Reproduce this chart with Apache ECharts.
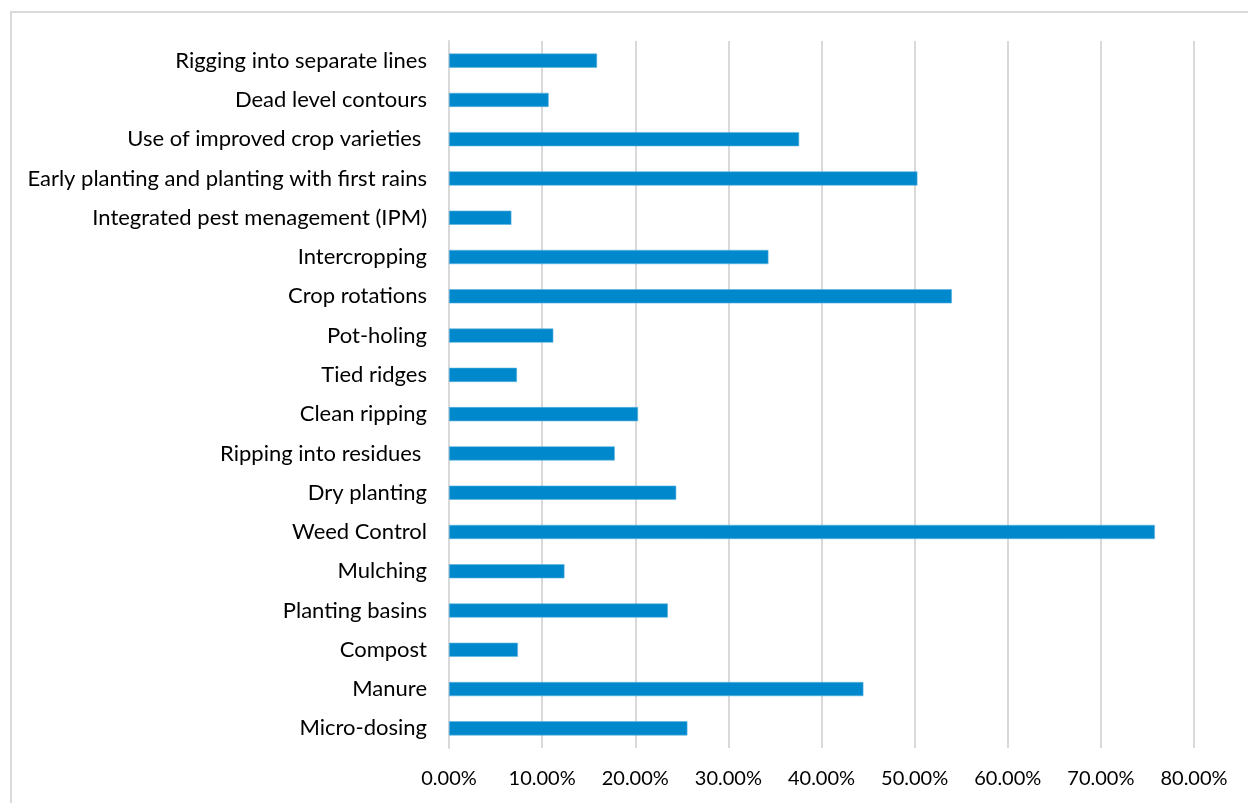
<!DOCTYPE html>
<html><head><meta charset="utf-8">
<script src="https://cdn.jsdelivr.net/npm/echarts@6/dist/echarts.min.js"></script>
<style>html,body{margin:0;padding:0;background:#fff}#c{width:1248px;height:803px;position:relative}
#frame{position:absolute;left:10px;top:11px;width:1300px;height:900px;border:2px solid #d9d9d9;box-sizing:border-box;pointer-events:none}</style>
</head><body><div id="c"></div><div id="frame"></div>
<script>
const categories = ["Micro-dosing","Manure","Compost","Planting basins","Mulching","Weed Control","Dry planting","Ripping into residues ","Clean ripping","Tied ridges","Pot-holing","Crop rotations","Intercropping","Integrated pest menagement (IPM)","Early planting and planting with first rains","Use of improved crop varieties ","Dead level contours","Rigging into separate lines"];
const values = [0.256,0.445,0.074,0.235,0.124,0.758,0.244,0.178,0.203,0.073,0.112,0.540,0.343,0.067,0.503,0.376,0.107,0.159];
const xTicks = {min:0, max:0.8, interval:0.1};
const FONT = "Lato, 'Open Sans', sans-serif";
const chart = echarts.init(document.getElementById('c'));
chart.setOption({
  animation:false,
  grid:{left:449,right:54,top:41,bottom:55,containLabel:false},
  xAxis:{type:'value',min:xTicks.min,max:xTicks.max,interval:xTicks.interval,
    axisLine:{show:false},axisTick:{show:false},
    splitLine:{show:true,lineStyle:{color:'#d9d9d9',width:2}},
    axisLabel:{margin:21,color:'#000',fontSize:20,fontFamily:FONT,formatter:v=>(v*100).toFixed(2)+'%'}},
  yAxis:{type:'category',data:categories,
    axisLine:{show:true,lineStyle:{color:'#d9d9d9',width:2}},axisTick:{show:false},
    axisLabel:{margin:22,color:'#000',fontSize:22,fontFamily:FONT}},
  series:[{type:'bar',data:values,barWidth:'36%',
    itemStyle:{color:'#0088CC',borderColor:'#5ab4e0',borderWidth:0.6}}]
});
</script></body></html>
